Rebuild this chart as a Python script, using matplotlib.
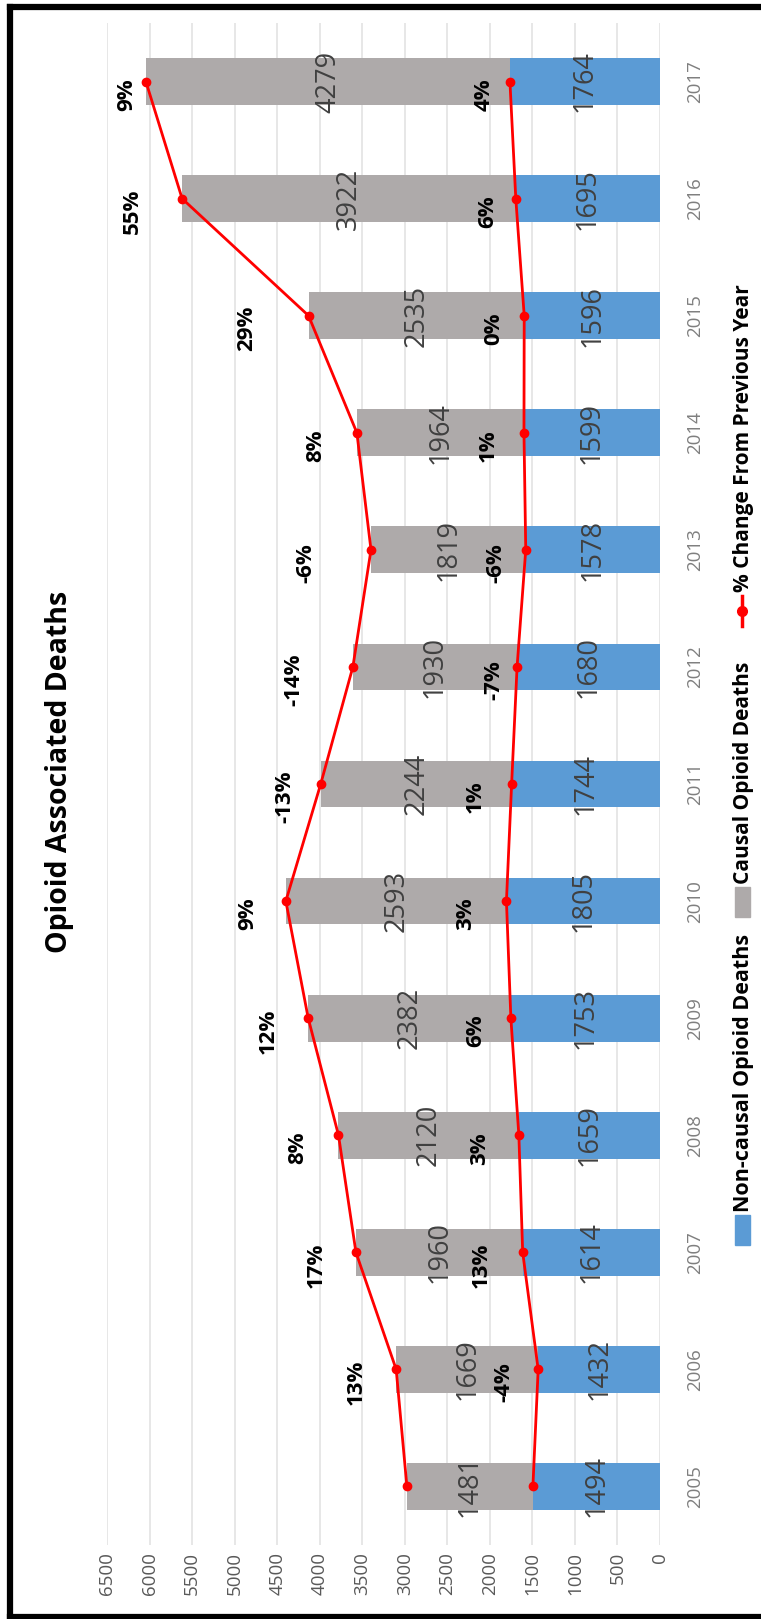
import matplotlib
matplotlib.use('Agg')
import matplotlib.pyplot as plt
from matplotlib.patches import Rectangle
from matplotlib.lines import Line2D

years = ['2005', '2006', '2007', '2008', '2009', '2010', '2011',
         '2012', '2013', '2014', '2015', '2016', '2017']
noncausal = [1494, 1432, 1614, 1659, 1753, 1805, 1744, 1680, 1578, 1599, 1596, 1695, 1764]
causal = [1481, 1669, 1960, 2120, 2382, 2593, 2244, 1930, 1819, 1964, 2535, 3922, 4279]
causal_pct = ['', '13%', '17%', '8%', '12%', '9%', '-13%', '-14%', '-6%', '8%', '29%', '55%', '9%']
noncausal_pct = ['', '-4%', '13%', '3%', '6%', '3%', '1%', '-7%', '-6%', '1%', '0%', '6%', '4%']

# label offsets to the left of the points, in pixels (hand placed in the original)
top_gap = [0, 40, 40, 41, 40, 38, 36, 59, 65, 41, 62, 50, 19]
low_gap = [0, 34, 41, 39, 35, 41, 36, 23, 30, 36, 30, 28, 26]

W, H = 761, 1619
plt.rcParams['font.family'] = ['Open Sans', 'DejaVu Sans']

blue = '#5B9BD5'
grey = '#AEAAAA'
red = '#FF0000'

fig = plt.figure(figsize=(W / 100, H / 100), dpi=100)
ax = fig.add_axes([107 / W, 1 - 1545 / H, (660 - 107) / W, (1545 - 23) / H])

pos = list(range(len(years)))
total = [a + b for a, b in zip(noncausal, causal)]

ax.barh(pos, noncausal, height=0.4, color=blue, zorder=2)
ax.barh(pos, causal, left=noncausal, height=0.4, color=grey, zorder=2)
ax.plot(total, pos, color=red, lw=2, marker='o', ms=6, zorder=3)
ax.plot(noncausal, pos, color=red, lw=2, marker='o', ms=6, zorder=3)

for i in pos:
    ax.text(noncausal[i] / 2, i, str(noncausal[i]), rotation=90, ha='center', va='center',
            fontsize=19.5, color='#404040', zorder=4)
    ax.text(noncausal[i] + causal[i] / 2, i, str(causal[i]), rotation=90, ha='center',
            va='center', fontsize=19.5, color='#404040', zorder=4)
    if causal_pct[i]:
        ax.annotate(causal_pct[i], (total[i], i), xytext=(-top_gap[i] * 0.72, -13 * 0.72),
                    textcoords='offset points', rotation=90, ha='center', va='center',
                    fontsize=16, fontweight='bold', color='black', zorder=4)
        ax.annotate(noncausal_pct[i], (noncausal[i], i), xytext=(-low_gap[i] * 0.72, -13 * 0.72),
                    textcoords='offset points', rotation=90, ha='center', va='center',
                    fontsize=16, fontweight='bold', color='black', zorder=4)

ax.set_xlim(6500, 0)
ax.set_ylim(-0.5, len(years) - 0.5)
ax.set_xticks(range(0, 6501, 500))
ax.set_xticklabels([str(v) for v in range(0, 6501, 500)], rotation=90, color='#595959', fontsize=13.5)
ax.set_yticks(pos)
ax.set_yticklabels(years, rotation=90, va='center', color='#7F7F7F', fontsize=13.5)
ax.yaxis.tick_right()
ax.tick_params(axis='x', length=0, pad=5)
ax.tick_params(axis='y', length=0, pad=19)
ax.xaxis.grid(True, color='#E3E3E3', lw=1.2, zorder=0)
ax.set_axisbelow(True)
for s in ax.spines.values():
    s.set_visible(False)


def fx(x):
    return x / W


def fy(y):
    return 1 - y / H


fig.text(fx(60), fy(772), 'Opioid Associated Deaths', rotation=90, ha='center', va='center',
         fontsize=20.5, fontweight='bold', color='black')

# legend, rotated like the rest of the chart
fig.add_artist(Rectangle((fx(735), fy(1245)), 15 / W, 30 / H, transform=fig.transFigure,
                         color=blue))
fig.text(fx(743), fy(1212), 'Non-causal Opioid Deaths', rotation=90, ha='center', va='bottom',
         fontsize=15.5, fontweight='bold', color='black')
fig.add_artist(Rectangle((fx(735), fy(917)), 15 / W, 30 / H, transform=fig.transFigure,
                         color=grey))
fig.text(fx(743), fy(884), 'Causal Opioid Deaths', rotation=90, ha='center', va='bottom',
         fontsize=15, fontweight='bold', color='black')
fig.add_artist(Line2D([fx(742), fx(742)], [fy(626), fy(596)], transform=fig.transFigure,
                      color=red, lw=2.5))
fig.add_artist(Line2D([fx(742)], [fy(611)], transform=fig.transFigure, color=red,
                      marker='o', ms=7, lw=0))
fig.text(fx(743), fy(592), '% Change From Previous Year', rotation=90, ha='center', va='bottom',
         fontsize=15, fontweight='bold', color='black')

# black frame on left, top and bottom
for xs, ys in [([10, 10], [7, 1617]), ([10, W], [7, 7]), ([10, W], [1617, 1617])]:
    fig.add_artist(Line2D([fx(x) for x in xs], [fy(y) for y in ys], transform=fig.transFigure,
                          color='black', lw=4.5, solid_capstyle='projecting'))

fig.savefig('out.png', dpi=100)
